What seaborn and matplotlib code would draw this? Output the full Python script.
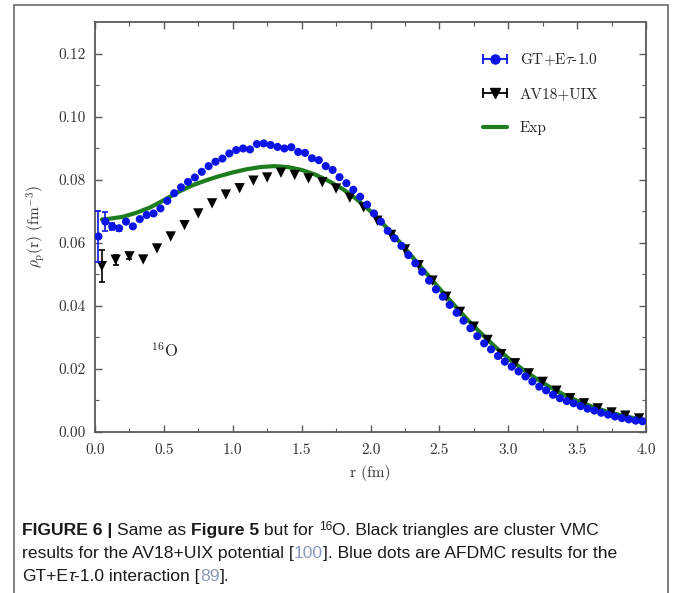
import numpy as np
import pandas as pd
import seaborn as sns
import matplotlib
matplotlib.use("Agg")
import matplotlib.pyplot as plt
from matplotlib.lines import Line2D
from matplotlib.patches import Rectangle
from matplotlib.legend_handler import HandlerLine2D, HandlerTuple

# ---------------- data ----------------
gt_r = [0.025, 0.075, 0.125, 0.175, 0.225, 0.275, 0.325, 0.375, 0.425, 0.475,
        0.525, 0.575, 0.625, 0.675, 0.725, 0.775, 0.825, 0.875, 0.925, 0.975,
        1.025, 1.075, 1.125, 1.175, 1.225, 1.275, 1.325, 1.375, 1.425, 1.475,
        1.525, 1.575, 1.625, 1.675, 1.725, 1.775, 1.825, 1.875, 1.925, 1.975,
        2.025, 2.075, 2.125, 2.175, 2.225, 2.275, 2.325, 2.375, 2.425, 2.475,
        2.525, 2.575, 2.625, 2.675, 2.725, 2.775, 2.825, 2.875, 2.925, 2.975,
        3.025, 3.075, 3.125, 3.175, 3.225, 3.275, 3.325, 3.375, 3.425, 3.475,
        3.525, 3.575, 3.625, 3.675, 3.725, 3.775, 3.825, 3.875, 3.925, 3.975]
gt_rho = [0.0620, 0.0667, 0.0652, 0.0646, 0.0667, 0.0652, 0.0675, 0.0688, 0.0693, 0.0709,
          0.0733, 0.0757, 0.0776, 0.0793, 0.0807, 0.0825, 0.0843, 0.0857, 0.0867, 0.0883,
          0.0894, 0.0899, 0.0896, 0.0913, 0.0915, 0.0910, 0.0904, 0.0899, 0.0903, 0.0888,
          0.0885, 0.0868, 0.0862, 0.0843, 0.0831, 0.0808, 0.0789, 0.0768, 0.0746, 0.0721,
          0.0693, 0.0667, 0.0638, 0.0614, 0.0590, 0.0561, 0.0535, 0.0508, 0.0480, 0.0452,
          0.0429, 0.0403, 0.0378, 0.0353, 0.0329, 0.0304, 0.0281, 0.0262, 0.0241, 0.0223,
          0.0207, 0.0192, 0.0176, 0.0160, 0.0144, 0.0132, 0.0118, 0.0107, 0.0098, 0.0091,
          0.0082, 0.0074, 0.0068, 0.0061, 0.0055, 0.0049, 0.0044, 0.0040, 0.0036, 0.0034]
gt_err = [0.0080, 0.0030, 0.0012, 0.0008]

av_r = [0.05, 0.15, 0.25, 0.35, 0.45, 0.55, 0.65, 0.75, 0.85, 0.95,
        1.05, 1.15, 1.25, 1.35, 1.45, 1.55, 1.65, 1.75, 1.85, 1.95,
        2.05, 2.15, 2.25, 2.35, 2.45, 2.55, 2.65, 2.75, 2.85, 2.95,
        3.05, 3.15, 3.25, 3.35, 3.45, 3.55, 3.65, 3.75, 3.85, 3.95]
av_rho = [0.0526, 0.0546, 0.0557, 0.0547, 0.0582, 0.0620, 0.0656, 0.0693, 0.0725, 0.0753,
          0.0773, 0.0797, 0.0807, 0.0822, 0.0815, 0.0804, 0.0792, 0.0772, 0.0743, 0.0712,
          0.0670, 0.0625, 0.0579, 0.0529, 0.0480, 0.0429, 0.0381, 0.0334, 0.0292, 0.0247,
          0.0218, 0.0186, 0.0159, 0.0131, 0.0107, 0.0091, 0.0075, 0.0062, 0.0052, 0.0043]
av_err = [0.0050, 0.0015, 0.0010]

exp_r = [0.05, 0.1, 0.2, 0.3, 0.4, 0.5, 0.6, 0.7, 0.8, 0.9, 1.0,
         1.1, 1.2, 1.3, 1.4, 1.5, 1.6, 1.7, 1.8, 1.9, 2.0,
         2.1, 2.2, 2.3, 2.4, 2.5, 2.6, 2.7, 2.8, 2.9, 3.0,
         3.1, 3.2, 3.3, 3.4, 3.5, 3.6, 3.7, 3.8, 3.9, 4.0]
exp_rho = [0.0674, 0.0676, 0.0682, 0.0695, 0.0712, 0.0735, 0.0760, 0.0781, 0.0797, 0.0811, 0.0823,
           0.0833, 0.0840, 0.0843, 0.0840, 0.0831, 0.0816, 0.0795, 0.0770, 0.0738, 0.0700,
           0.0656, 0.0608, 0.0557, 0.0506, 0.0455, 0.0406, 0.0358, 0.0314, 0.0272, 0.0234,
           0.0200, 0.0170, 0.0143, 0.0119, 0.0099, 0.0082, 0.0067, 0.0055, 0.0045, 0.0037]

x_ticks = [0.0, 0.5, 1.0, 1.5, 2.0, 2.5, 3.0, 3.5, 4.0]
y_ticks = [0.00, 0.02, 0.04, 0.06, 0.08, 0.10, 0.12]
labels = [r"GT+E$\tau$-1.0", "AV18+UIX", "Exp"]

# ---------------- style ----------------
sns.set_style("ticks")
plt.rcParams["font.family"] = ["cmr10", "DejaVu Serif"]
plt.rcParams["mathtext.fontset"] = "cm"
plt.rcParams["axes.formatter.use_mathtext"] = True

BLUE = "#0a14e6"
GREEN = "#1e7d1e"
GRAY = "#5a5a5a"

W, H = 674, 593
fig = plt.figure(figsize=(W / 100, H / 100), dpi=100)
ax = fig.add_axes([95 / W, 1 - 432 / H, 551 / W, 410 / H])

gt_df = pd.DataFrame({"r": gt_r, "rho": gt_rho})
av_df = pd.DataFrame({"r": av_r, "rho": av_rho})
exp_df = pd.DataFrame({"r": exp_r, "rho": exp_rho})

sns.lineplot(data=exp_df, x="r", y="rho", ax=ax, color=GREEN, lw=3.0,
             sort=False, estimator=None, zorder=2)
ax.errorbar(av_r[:len(av_err)], av_rho[:len(av_err)], yerr=av_err, fmt="none",
            ecolor="black", elinewidth=1.2, capsize=2.5, capthick=1.2, zorder=3)
sns.scatterplot(data=av_df, x="r", y="rho", ax=ax, marker="v", s=55,
                color="black", edgecolor="none", zorder=3)
ax.errorbar(gt_r[:len(gt_err)], gt_rho[:len(gt_err)], yerr=gt_err, fmt="none",
            ecolor=BLUE, elinewidth=1.2, capsize=2.5, capthick=1.2, zorder=4)
sns.scatterplot(data=gt_df, x="r", y="rho", ax=ax, marker="o", s=34,
                color=BLUE, edgecolor="none", zorder=4)

ax.set_xlim(0, 4.0)
ax.set_ylim(0, 0.13)
ax.set_xticks(x_ticks)
ax.set_xticklabels([f"{v:.1f}" for v in x_ticks])
ax.set_yticks(y_ticks)
ax.set_yticklabels([f"{v:.2f}" for v in y_ticks])
ax.set_xticks(np.arange(0.25, 4.0, 0.5), minor=True)
ax.set_yticks(np.arange(0.01, 0.13, 0.02), minor=True)
ax.tick_params(which="both", direction="in", top=True, right=True, color=GRAY)
ax.tick_params(which="major", length=5, width=1.0, labelsize=11, labelcolor="#333333")
ax.tick_params(which="minor", length=3, width=0.8)
ax.tick_params(axis="x", which="major", pad=8)
ax.tick_params(axis="y", which="major", pad=7)
for sp in ax.spines.values():
    sp.set_color(GRAY)
    sp.set_linewidth(1.3)

ax.set_xlabel("r (fm)", fontsize=11, color="#333333", labelpad=6)
ax.set_ylabel(r"$\rho_{\rm p}$(r) (fm$^{-3}$)", fontsize=11, color="#333333", labelpad=8)

ax.text(0.407, 0.0238, r"$^{16}$O", fontsize=12, color="#222222", va="baseline")

# legend (gnuplot-like horizontal error bar handles)
gt_bar = Line2D([], [], color=BLUE, lw=1.3, marker="|", ms=7, mew=1.3)
gt_dot = Line2D([], [], color=BLUE, marker="o", ms=6.5, ls="none")
av_bar = Line2D([], [], color="black", lw=1.3, marker="|", ms=7, mew=1.3)
av_tri = Line2D([], [], color="black", marker="v", ms=7.5, ls="none")
exp_ln = Line2D([], [], color=GREEN, lw=3.0)
ax.legend(handles=[(gt_bar, gt_dot), (av_bar, av_tri), exp_ln], labels=labels,
          handler_map={gt_bar: HandlerLine2D(numpoints=2, marker_pad=0.0),
                       av_bar: HandlerLine2D(numpoints=2, marker_pad=0.0),
                       tuple: HandlerTuple(ndivide=1, pad=0)},
          numpoints=1, frameon=False, fontsize=11, loc="upper left",
          bbox_to_anchor=(0.693, 0.944), borderaxespad=0,
          handlelength=1.6, labelspacing=1.3, handletextpad=0.8)

# outer frame
fig.add_artist(Rectangle((14 / W, -0.05), (668 - 14) / W, 1 - 5 / H + 0.05,
                         transform=fig.transFigure, fill=False,
                         edgecolor="#6a6a6a", lw=1.2))

# caption, built from styled pieces
renderer = fig.canvas.get_renderer()
CAP = dict(family="Liberation Sans", fontsize=12.6, color="#1a1a1a")
REF = "#8b9bb5"


def advance(s, **kw):
    t1 = fig.text(0, 0, "x" + s + "x", **kw)
    t2 = fig.text(0, 0, "xx", **kw)
    w = t1.get_window_extent(renderer).width - t2.get_window_extent(renderer).width
    t1.remove(); t2.remove()
    return w


def draw_line(pieces, x0, y0):
    x = x0
    for s, extra in pieces:
        kw = dict(CAP); kw.update(extra)
        dy = kw.pop("dy", 0)
        fig.text(x / W, 1 - (y0 - dy) / H, s, va="baseline", ha="left", **kw)
        x += advance(s, **kw)


line1 = [("FIGURE 6 | ", {"weight": "bold"}), ("Same as ", {}), ("Figure 5", {"weight": "bold"}),
         (" but for ", {}), ("16", {"fontsize": 8.6, "dy": 5.5}),
         ("O. Black triangles are cluster VMC", {})]
line2 = [("results for the AV18+UIX potential [", {}), ("100", {"color": REF}),
         ("]. Blue dots are AFDMC results for the", {})]
line3 = [("GT+E", {}), ("τ", {"style": "italic"}), ("-1.0 interaction [", {}),
         ("89", {"color": REF}), ("].", {})]
draw_line(line1, 22, 535)
draw_line(line2, 22, 558)
draw_line(line3, 22, 581)

fig.savefig("out.png", dpi=100)
